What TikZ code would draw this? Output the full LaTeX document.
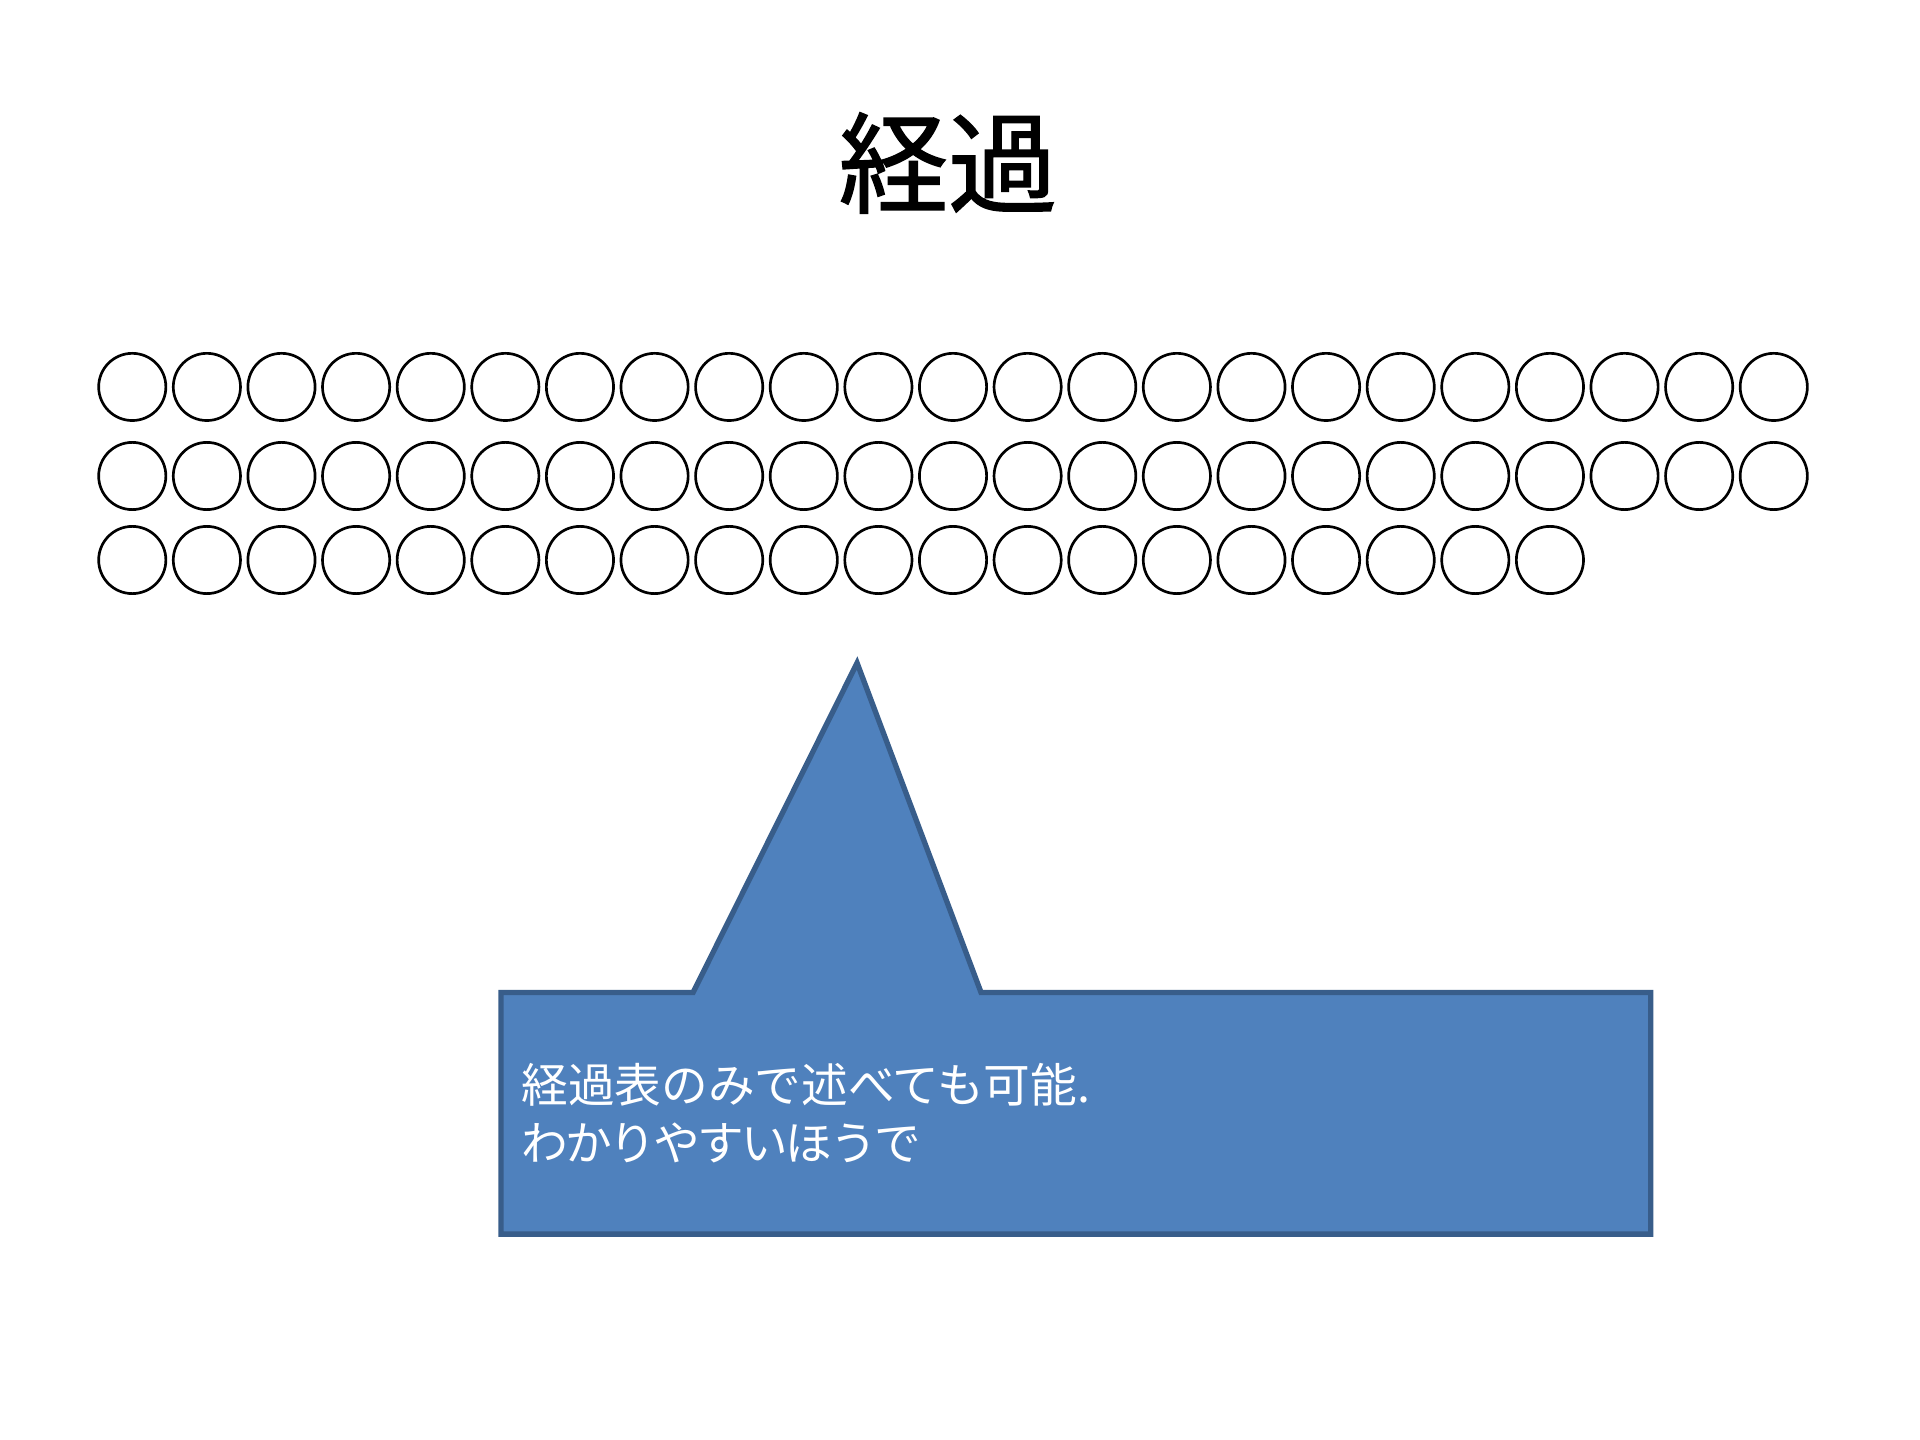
\documentclass[tikz,border=0pt]{standalone}
\usepackage{fontspec}
\newfontfamily\cjk{Noto Sans CJK JP}
\newfontfamily\cjktitle[FakeBold=1.3]{Noto Sans CJK JP}
\newfontfamily\cjktight[LetterSpace=-5.5]{Noto Sans CJK JP}
\definecolor{calloutfill}{HTML}{4F81BD}
\definecolor{calloutline}{HTML}{385D8A}
\tikzset{
  ring/.style={circle, draw=black, line width=1pt, minimum size=25.2pt, inner sep=0pt},
  titletext/.style={inner sep=0pt, font=\cjktitle\fontsize{41}{49}\selectfont},
  callouttext/.style={inner sep=0pt, anchor=base west, text=white, font=\cjk\fontsize{17.5}{21.7}\selectfont},
  calloutshape/.style={fill=calloutfill, draw=calloutline, line width=2pt, line join=miter}
}
\begin{document}
\begin{tikzpicture}[x=1pt,y=-1pt]
\useasboundingbox (0,0) rectangle (720,540);
\node[titletext] (title) at (355.5,61.1) {経過};
% rows of circles
\foreach \i in {1,...,23} {
  \node[ring] (a\i) at ({49.6+27.98*(\i-1)},145.1) {};
  \node[ring] (b\i) at ({49.6+27.98*(\i-1)},178.5) {};
}
\foreach \i in {1,...,20} {
  \node[ring] (c\i) at ({49.6+27.98*(\i-1)},210.0) {};
}
% callout
\coordinate (tip) at (321.4,248.6);
\coordinate (bl) at (259.9,372.2);
\coordinate (br) at (367.9,372.2);
\draw[calloutshape] (187.9,372.2) -- (bl) -- (tip) -- (br) -- (619,372.2) -- (619,462.8) -- (187.9,462.8) -- cycle;
\node[callouttext] (t1) at (195.3,413.5) {経過表のみで述べても可能.};
\node[callouttext, font=\cjktight\fontsize{17.5}{21.7}\selectfont] (t2) at (195.3,435.2) {わかりやすいほうで};
\end{tikzpicture}
\end{document}
